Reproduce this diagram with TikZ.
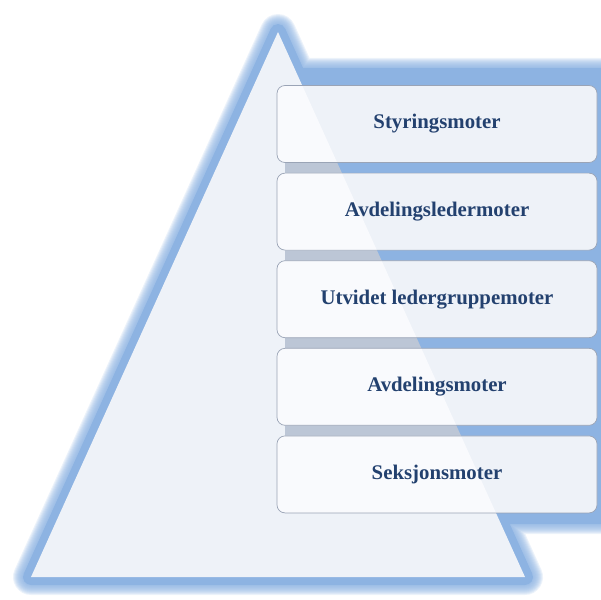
\documentclass[tikz,border=0pt]{standalone}
\usepackage{fontspec}
\setmainfont{Liberation Serif}
\definecolor{glowblue}{HTML}{8DB3E2}
\definecolor{pyrfill}{HTML}{EEF2F8}
\definecolor{boxwhite}{HTML}{F9FAFD}
\definecolor{gapgrey}{HTML}{BCC6D6}
\definecolor{textblue}{HTML}{23416F}
\definecolor{boxline}{HTML}{9AA4B6}

\begin{document}
\begin{tikzpicture}[x=1pt, y=-1pt,
    level/.style={rectangle, rounded corners=8pt, draw=boxline, line width=0.7pt,
      fill=pyrfill, minimum width=320pt, minimum height=77pt, inner sep=0pt,
      text=textblue, font=\fontsize{20.8}{24}\selectfont\bfseries,
      path picture={\fill[boxwhite] (A) -- (B) -- (C) -- cycle;}}]
    \useasboundingbox (0,0) rectangle (601,599);
    % Pyramid corners and the outline of the panel behind the levels
    \coordinate (A) at (278,32);
    \coordinate (B) at (31,577);
    \coordinate (C) at (525,577);
    \coordinate (P1) at (298,76);
    \coordinate (R1) at (625,76);
    \coordinate (R2) at (625,516);
    \coordinate (P2) at (497.4,516);

    % Soft blue glow round pyramid and panel
    \foreach \w in {18,20,...,36}
      \draw[glowblue, opacity=.16, line width=\w pt, line join=round]
        (A) -- (P1) -- (R1) -- (R2) -- (P2) -- (C) -- (B) -- cycle;
    \draw[glowblue, fill=glowblue, line width=16pt, line join=round]
      (A) -- (P1) -- (R1) -- (R2) -- (P2) -- (C) -- (B) -- cycle;
    \fill[pyrfill] (A) -- (B) -- (C) -- cycle;   % Pyramid body

    % Gaps between the levels
    \fill[glowblue] (285,85) rectangle (625,513);
    \begin{scope}
      \clip (A) -- (B) -- (C) -- cycle;
      \fill[gapgrey] (285,85) rectangle (625,513);
    \end{scope}

    % Levels, top to bottom
    \node[level] (styr) at (437,124) {Styringsmoter};
    \node[level] (avdleder) at (437,211.6) {Avdelingsledermoter};
    \node[level] (utvidet) at (437,299.2) {Utvidet ledergruppemoter};
    \node[level] (avdeling) at (437,386.8) {Avdelingsmoter};
    \node[level] (seksjon) at (437,474.4) {Seksjonsmoter};
\end{tikzpicture}
\end{document}
